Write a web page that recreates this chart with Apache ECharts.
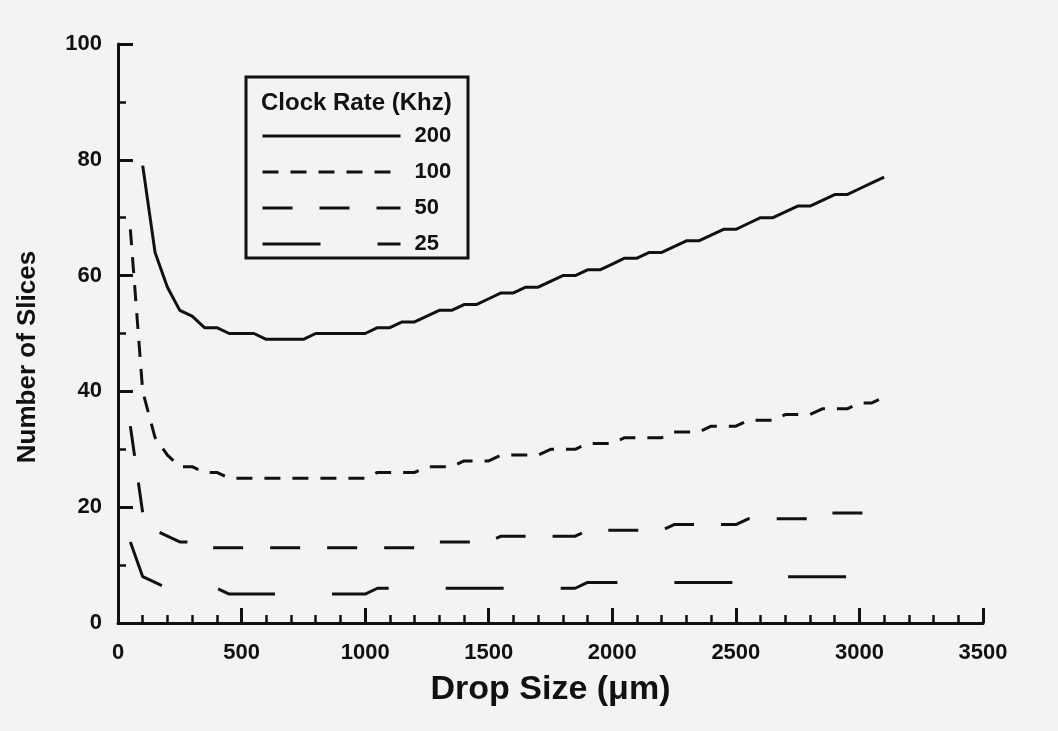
<!DOCTYPE html>
<html>
<head>
<meta charset="utf-8">
<script src="https://cdn.jsdelivr.net/npm/echarts@6/dist/echarts.min.js"></script>
<style>
  html, body { margin: 0; padding: 0; background: #f3f3f3; }
  #chart { width: 1058px; height: 731px; }
</style>
</head>
<body>
<div id="chart"></div>
<script>
// drop sizes (µm) shared by all curves
const dropSize = [50, 100, 150, 200, 250, 300, 350, 400, 450, 500, 550, 600, 650, 700, 750, 800, 850, 900, 950, 1000,
  1050, 1100, 1150, 1200, 1250, 1300, 1350, 1400, 1450, 1500, 1550, 1600, 1650, 1700, 1750, 1800, 1850, 1900, 1950, 2000,
  2050, 2100, 2150, 2200, 2250, 2300, 2350, 2400, 2450, 2500, 2550, 2600, 2650, 2700, 2750, 2800, 2850, 2900, 2950, 3000,
  3050, 3100];

// number of slices per clock rate
const slices200 = [null, 79, 64, 58, 54, 53, 51, 51, 50, 50, 50, 49, 49, 49, 49, 50, 50, 50, 50, 50,
  51, 51, 52, 52, 53, 54, 54, 55, 55, 56, 57, 57, 58, 58, 59, 60, 60, 61, 61, 62,
  63, 63, 64, 64, 65, 66, 66, 67, 68, 68, 69, 70, 70, 71, 72, 72, 73, 74, 74, 75,
  76, 77];
const slices100 = [68, 40, 32, 29, 27, 27, 26, 26, 25, 25, 25, 25, 25, 25, 25, 25, 25, 25, 25, 25,
  26, 26, 26, 26, 27, 27, 27, 28, 28, 28, 29, 29, 29, 29, 30, 30, 30, 31, 31, 31,
  32, 32, 32, 32, 33, 33, 33, 34, 34, 34, 35, 35, 35, 36, 36, 36, 37, 37, 37, 38,
  38, 39];
const slices50 = [34, 19, 16, 15, 14, 14, 13, 13, 13, 13, 13, 13, 13, 13, 13, 13, 13, 13, 13, 13,
  13, 13, 13, 13, 14, 14, 14, 14, 14, 14, 15, 15, 15, 15, 15, 15, 15, 16, 16, 16,
  16, 16, 16, 16, 17, 17, 17, 17, 17, 17, 18, 18, 18, 18, 18, 18, 19, 19, 19, 19,
  19, 20];
const slices25 = [14, 8, 7, 6, 6, 6, 6, 6, 5, 5, 5, 5, 5, 5, 5, 5, 5, 5, 5, 5,
  6, 6, 6, 6, 6, 6, 6, 6, 6, 6, 6, 6, 6, 6, 6, 6, 6, 7, 7, 7,
  7, 7, 7, 7, 7, 7, 7, 7, 7, 7, 7, 8, 8, 8, 8, 8, 8, 8, 8, 8,
  8, 8];

const rates = ['200', '100', '50', '25'];
const dashes = ['solid', [16, 12], [30, 27], [58, 57]];
const allSlices = [slices200, slices100, slices50, slices25];

const font = "'Liberation Sans', Arial, sans-serif";

const pairs = (ys) => dropSize.map((x, i) => [x, ys[i]]);

const series = rates.map((name, k) => ({
  name: name,
  type: 'line',
  data: pairs(allSlices[k]),
  symbol: 'none',
  connectNulls: false,
  lineStyle: { color: '#111', width: 3, type: dashes[k], cap: 'butt' },
  itemStyle: { color: '#111' }
}));

const chart = echarts.init(document.getElementById('chart'));
chart.setOption({
  animation: false,
  backgroundColor: '#f3f3f3',
  grid: { left: 118, right: 75, top: 44, bottom: 108 },
  xAxis: {
    type: 'value', min: 0, max: 3500, interval: 500,
    name: 'Drop Size (\u03bcm)', nameLocation: 'middle', nameGap: 50,
    nameTextStyle: { fontFamily: font, fontWeight: 'bold', fontSize: 34, color: '#111' },
    axisLine: { lineStyle: { color: '#111', width: 3 } },
    axisTick: { inside: true, length: 15, lineStyle: { color: '#111', width: 3 } },
    minorTick: { show: true, splitNumber: 5, length: 8, lineStyle: { color: '#111', width: 2.5 } },
    axisLabel: { margin: 19, fontFamily: font, fontWeight: 'bold', fontSize: 22, color: '#111',
      formatter: (v) => String(v) },
    splitLine: { show: false }
  },
  yAxis: {
    type: 'value', min: 0, max: 100, interval: 20,
    axisLine: { show: true, lineStyle: { color: '#111', width: 3 } },
    axisTick: { show: true, inside: true, length: 15, lineStyle: { color: '#111', width: 3 } },
    minorTick: { show: true, splitNumber: 2, length: 8, lineStyle: { color: '#111', width: 2.5 } },
    axisLabel: { margin: 16, fontFamily: font, fontWeight: 'bold', fontSize: 22, color: '#111' },
    splitLine: { show: false }
  },
  legend: {
    orient: 'vertical', left: 261, top: 125, padding: 0,
    itemWidth: 138, itemHeight: 20, itemGap: 14,
    data: rates,
    itemStyle: { opacity: 0 },
    lineStyle: { width: 3, color: '#111', cap: 'butt' },
    textStyle: { fontFamily: font, fontWeight: 'bold', fontSize: 22, color: '#111', lineHeight: 20, padding: [0, 0, 0, 9] }
  },
  graphic: [
    { type: 'rect', shape: { x: 246, y: 77, width: 222, height: 181 },
      style: { fill: 'none', stroke: '#111', lineWidth: 3 } },
    { type: 'text', left: 261, top: 91,
      style: { text: 'Clock Rate (Khz)', font: 'bold 24px ' + font, fill: '#111' } },
    { type: 'text', x: 28, y: 357, rotation: Math.PI / 2,
      style: { text: 'Number of Slices', font: 'bold 26px ' + font, fill: '#111',
        textAlign: 'center', textVerticalAlign: 'middle' } }
  ],
  series: series
});
</script>
</body>
</html>
